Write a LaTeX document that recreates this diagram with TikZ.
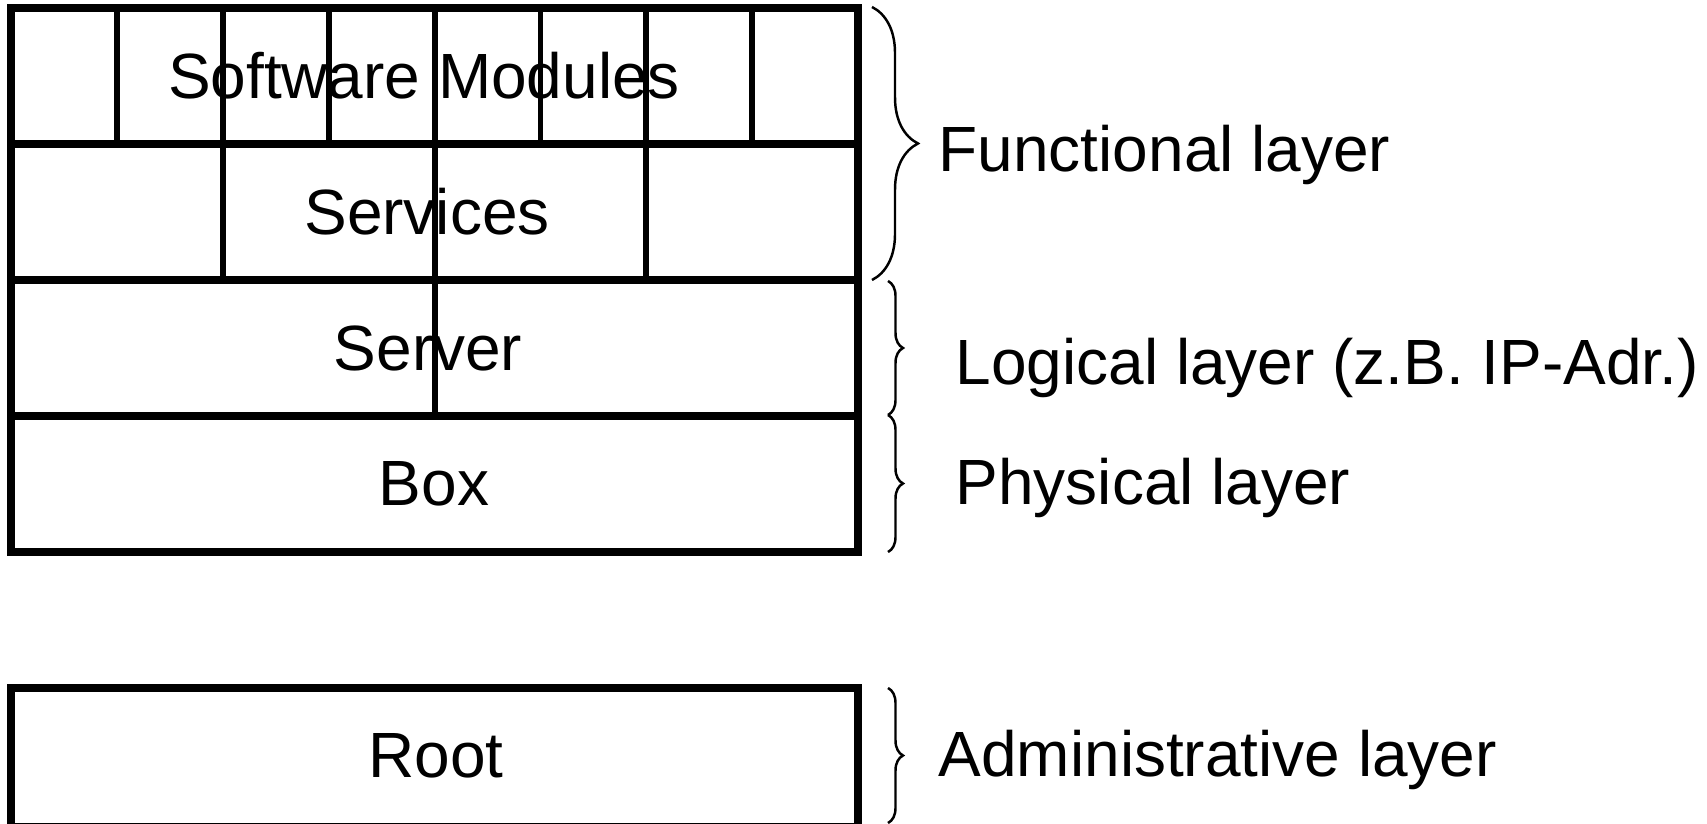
\documentclass[tikz,border=0pt]{standalone}
\usepackage{fontspec}
\setmainfont{Liberation Sans}
\usetikzlibrary{decorations.pathreplacing}

\tikzset{
    frameline/.style={line width=2.1pt},
    divline/.style={line width=1.7pt},
    layertext/.style={font=\fontsize{18.2pt}{22pt}\selectfont, inner sep=0pt},
    sidetext/.style={layertext, anchor=base west},
    bigbrace/.style={decorate, decoration={brace, amplitude=0.46cm}, line width=0.7pt},
    smallbrace/.style={decorate, decoration={brace, amplitude=0.15cm}, line width=0.7pt}
}

\begin{document}
\begin{tikzpicture}
    \useasboundingbox (0,0) rectangle (17.07,8.23);

    \draw[divline] (1.169,6.79) -- (1.169,8.15);
    \draw[divline] (3.287,6.79) -- (3.287,8.15);
    \draw[divline] (5.405,6.79) -- (5.405,8.15);
    \draw[divline] (7.523,6.79) -- (7.523,8.15);
    \draw[divline] (2.228,5.43) -- (2.228,8.15);
    \draw[divline] (6.464,5.43) -- (6.464,8.15);
    \draw[divline] (4.346,4.07) -- (4.346,8.15);

    \draw[frameline] (0.11,6.79) -- (8.58,6.79);
    \draw[frameline] (0.11,5.43) -- (8.58,5.43);
    \draw[frameline] (0.11,4.07) -- (8.58,4.07);
    \draw[frameline] (0.11,2.71) rectangle (8.58,8.15);
    \draw[frameline] (0.11,-0.04) rectangle (8.58,1.35);

    \node[layertext] (modules) at (4.24,7.47) {Software Modules};
    \node[layertext] (services) at (4.27,6.11) {Services};
    \node[layertext] (server) at (4.28,4.75) {Server};
    \node[layertext] (box) at (4.34,3.39) {Box};
    \node[layertext] (root) at (4.36,0.67) {Root};

    \coordinate (funtop) at (8.72,8.16);
    \coordinate (funbot) at (8.72,5.43);
    \coordinate (logtop) at (8.88,5.42);
    \coordinate (logbot) at (8.88,4.08);
    \coordinate (phytop) at (8.88,4.08);
    \coordinate (phybot) at (8.88,2.71);
    \coordinate (admtop) at (8.88,1.35);
    \coordinate (admbot) at (8.88,0.0);

    \draw[bigbrace] (funtop) -- (funbot);
    \draw[smallbrace] (logtop) -- (logbot);
    \draw[smallbrace] (phytop) -- (phybot);
    \draw[smallbrace] (admtop) -- (admbot);

    \node[sidetext] (functional) at (9.38,6.51) {Functional layer};
    \node[sidetext] (logical) at (9.55,4.38) {Logical layer (z.B. IP-Adr.)};
    \node[sidetext] (physical) at (9.55,3.18) {Physical layer};
    \node[sidetext] (admin) at (9.38,0.46) {Administrative layer};
\end{tikzpicture}
\end{document}
